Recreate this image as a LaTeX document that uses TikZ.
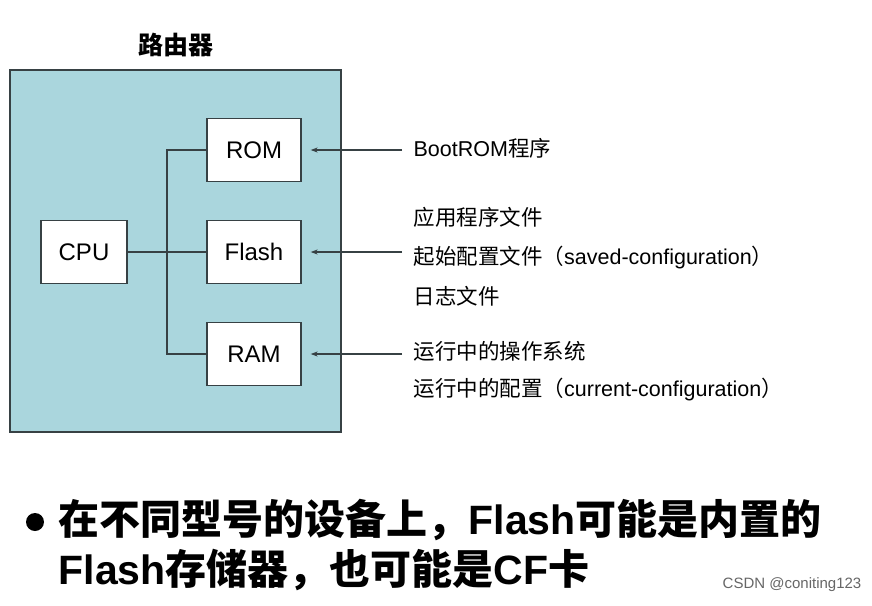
\documentclass[tikz,border=0pt]{standalone}
\usepackage{fontspec}
\setmainfont{Liberation Sans}
\newfontfamily\cjk{Noto Sans CJK SC}
\usetikzlibrary{arrows.meta}
\definecolor{routerbg}{RGB}{170,214,221}
\definecolor{linegray}{RGB}{55,65,68}
\newcommand{\zh}[1]{{\cjk #1}}

\begin{document}
\begin{tikzpicture}[x=1pt,y=-1pt,>={Stealth[length=7pt,width=5pt]},
	line width=1.3pt,draw=linegray,
	part/.style={
		draw=linegray, % boxes inside the router
		fill=white,
		minimum width=94pt,
		minimum height=63pt,
		inner sep=0pt,
		font=\fontsize{24}{28}\selectfont,
	},
	note/.style={anchor=west,inner sep=0pt,font=\fontsize{21.5}{26}\selectfont},
	bigtxt/.style={anchor=west,inner sep=0pt,font=\bfseries\fontsize{41}{48}\selectfont},
]
	\useasboundingbox (0,0) rectangle (872,605);
	\fill[white] (0,0) rectangle (872,605);

	% router
	\node[draw=linegray,fill=routerbg,minimum width=331pt,minimum height=362pt,
		inner sep=0pt] (router) at (175.5,251) {};
	\node[inner sep=0pt,font=\cjk\bfseries\fontsize{25}{30}\selectfont] (title) at (176,45) {路由器};

	\node[part,minimum width=86pt] (cpu) at (84,252) {CPU};
	\node[part] (rom) at (254,150) {ROM};
	\node[part] (flash) at (254,252) {Flash};
	\node[part] (ram) at (254,354) {RAM};

	\coordinate (bus) at (167,252);
	\draw (rom.west) -| (bus) |- (ram.west);
	\draw (cpu) -- (flash);

	% contents
	\node[note] (bootrom) at (413,148) {BootROM\zh{程序}};
	\node[note] (app) at (413,217) {\zh{应用程序文件}};
	\node[note] (saved) at (413,258) {\zh{起始配置文件（}saved-configuration\zh{）}};
	\node[note] (log) at (413,296) {\zh{日志文件}};
	\node[note] (os) at (413,351) {\zh{运行中的操作系统}};
	\node[note] (current) at (413,390) {\zh{运行中的配置（}current-configuration\zh{）}};

	\coordinate (romsrc) at (402,150);
	\coordinate (flashsrc) at (402,252);
	\coordinate (ramsrc) at (402,354);
	\foreach \s/\t in {romsrc/rom,flashsrc/flash,ramsrc/ram}{
		\draw[->,shorten >=9pt] (\s) -- (\t.east);
	}

	% bottom remark
	\fill[black] (35,522) circle (9pt);
	\node[bigtxt] (line1) at (58,520) {\zh{在不同型号的设备上，}Flash\zh{可能是内置的}};
	\node[bigtxt] (line2) at (58,570) {Flash\zh{存储器，也可能是}CF\zh{卡}};

	\node[anchor=east,inner sep=0pt,text=black!60,font=\fontsize{15}{18}\selectfont] (mark) at (862,585) {CSDN @coniting123};
\end{tikzpicture}
\end{document}
